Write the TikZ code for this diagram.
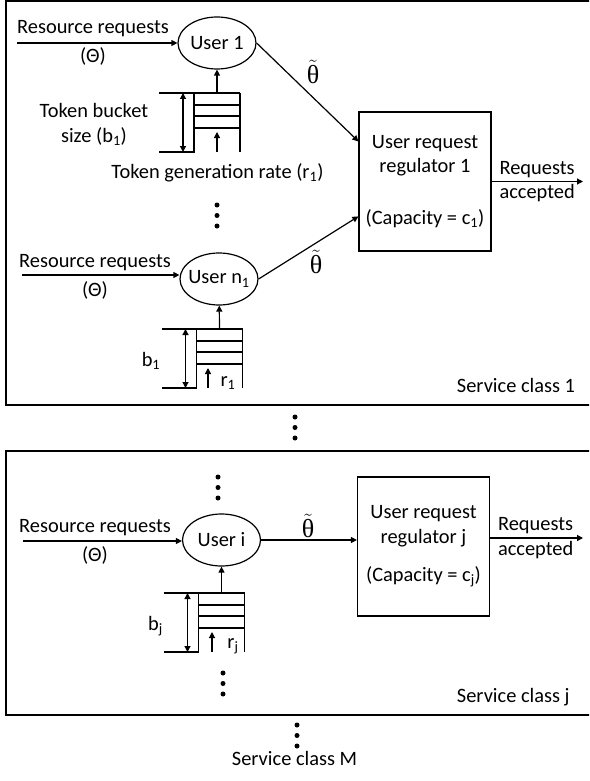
\documentclass[tikz,border=0pt]{standalone}
\usepackage{fontspec}
\setmainfont{Carlito}
\newfontfamily\thetafont{Liberation Serif}
\usetikzlibrary{arrows.meta,shapes.geometric}

\begin{document}
\begin{tikzpicture}[x=1pt, y=-1pt,
	font=\fontsize{20.4}{24.5}\selectfont,
	line width=1.2pt,
	>={Triangle[length=6pt,width=6pt]},
	user/.style={ellipse, draw, minimum width=78pt, minimum height=52pt, inner sep=0pt},
	regler/.style={rectangle, draw, minimum width=132pt, minimum height=139pt, align=center, inner sep=0pt},
	rahmen/.style={line width=1.8pt},
	theta/.style={font=\thetafont\fontsize{26}{26}\selectfont}]
	
	\useasboundingbox (0,0) rectangle (589,781);
	\clip (0,0) rectangle (589,781);
	\def\ps{2.5}
	
	%Eimer: Mitte, oben, Pfeil r, Name
	\newcommand{\tokenbucket}[4]
	{
		\draw ({#1-58},#2) -- ({#1+23},#2);
		\draw ({#1-23},#2) -- ({#1-23},{#2+59}) -- ({#1-58},{#2+59});
		\draw ({#1+23},#2) -- ({#1+23},{#2+59});
		\foreach \h in {12,23,35}
			\draw ({#1-23},{#2+\h}) -- ({#1+23},{#2+\h});
		\draw[<->] ({#1-34},#2) -- ({#1-34},{#2+59});
		\draw[->] (#3,{#2+59}) -- (#3,{#2+39});
		\coordinate (#4) at (#1,#2);
	};
	%drei Punkte
	\newcommand{\punkte}[2]
	{
		\foreach \k in {0,1,2}
			\fill (#1,{#2+10.5*\k}) circle[radius=\ps pt];
	};
	
	%Rahmen
	\draw[rahmen] (6,1) rectangle (600,405);
	\draw[rahmen] (6,451) rectangle (600,715);
	
	%Klasse 1
	\node[user] (u1) at (217,43) {\makebox[0pt]{User 1}};
	\node[user] (un) at (219,279) {\makebox[0pt]{User n\textsubscript{1}}};
	\node[regler] (reg1) at (425,181.5) {User request\\regulator 1\\[27pt](Capacity = c\textsubscript{1})};
	
	\coordinate (e1) at (17,43);
	\draw[->] (e1) -- (u1.west);
	\node (rr1) at (93,29) {Resource requests};
	\node (th1) at (93,56) {(Θ)};
	\coordinate (e2) at (22,275);
	\draw[->] (e2) -- (e2 -| un.west);
	\node (rr2) at (95,263) {Resource requests};
	\node (th2) at (95,290) {(Θ)};
	
	\tokenbucket{217}{93}{217}{t1};
	\draw[->] (t1) -- (u1);
	\node[align=center] (tbs) at (94,124.5) {Token bucket\\size (b\textsubscript{1})};
	\node (tgr) at (217.5,173) {Token generation rate (r\textsubscript{1})};
	\punkte{217}{205}
	
	\tokenbucket{219.5}{329}{208}{t2};
	\draw[->] (t2) -- (un);
	\node (b1) at (151,361) {b\textsubscript{1}};
	\node (r1) at (228,383) {r\textsubscript{1}};
	
	\coordinate (in1) at ([yshift=-30pt]reg1.north west);
	\coordinate (in2) at ([yshift=-105pt]reg1.north west);
	\draw[->] (u1.east) -- (in1);
	\draw[->] (un.east) -- (in2);
	\node[theta] (tt1) at (313,72) {$\tilde{\mbox{θ}}$};
	\node[theta] (tt2) at (316,262) {$\tilde{\mbox{θ}}$};
	
	\coordinate (out1) at (583,181.5);
	\draw[->] (reg1.east) -- (out1);
	\node[right, align=left, xshift=4pt] (acc1) at (reg1.east) {Requests\\accepted};
	\node[anchor=base west] (sc1) at (453,392) {Service class 1};
	
	\punkte{295}{417}
	
	%Klasse j
	\punkte{218}{477}
	\node[user] (ui) at (221.5,540) {\makebox[0pt]{User i}};
	\node[regler] (regj) at (423.5,546.5) {User request\\regulator j\\[14pt](Capacity = c\textsubscript{j})};
	
	\coordinate (e3) at (23,541);
	\draw[->] (e3) -- (e3 -| ui.west);
	\node (rr3) at (95,528) {Resource requests};
	\node (th3) at (95,555) {(Θ)};
	
	\tokenbucket{221.5}{593}{212}{t3};
	\draw[->] (t3) -- (ui);
	\node (bj) at (155.5,626) {b\textsubscript{j}};
	\node (rj) at (233,646) {r\textsubscript{j}};
	\punkte{223}{673}
	
	\draw[->] (ui.east) -- (ui.east -| regj.west);
	\node[theta] (tt3) at (308,526) {$\tilde{\mbox{θ}}$};
	
	\coordinate (outj) at (583,538);
	\draw[->] (regj.east |- outj) -- (outj);
	\node[right, align=left, xshift=4pt] (accj) at (regj.east |- outj) {Requests\\accepted};
	\node[anchor=base west] (scj) at (453,702) {Service class j};
	
	%weitere Klassen
	\punkte{297}{725}
	\node[anchor=base] (scm) at (294.5,765) {Service class M};
\end{tikzpicture}
\end{document}
